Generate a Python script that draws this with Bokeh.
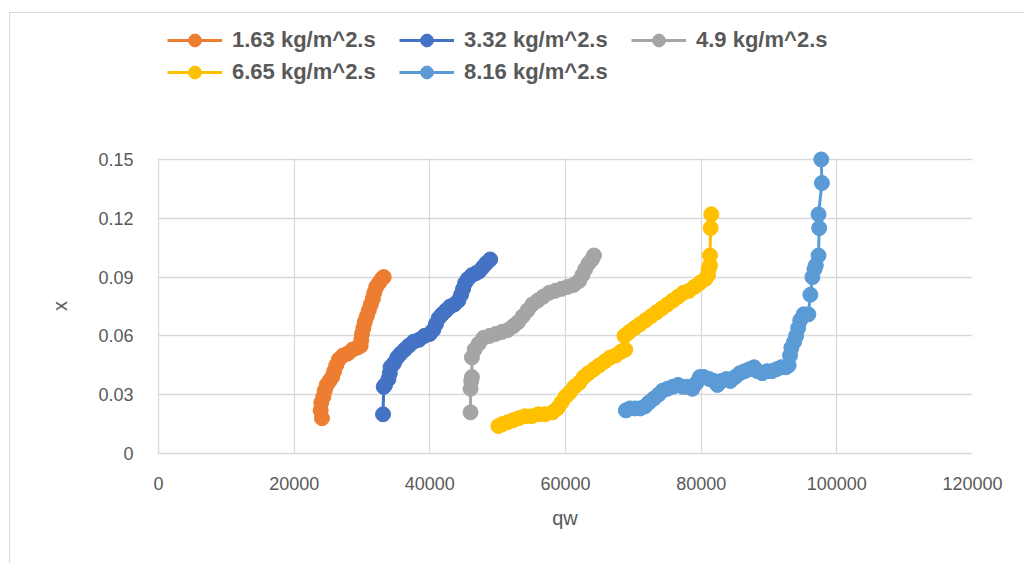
from bokeh.plotting import figure
from bokeh.models import Range1d, FixedTicker, Legend, LegendItem
from bokeh.layouts import column
from bokeh.embed import file_html
from bokeh.resources import INLINE

# ---------------- data ----------------
labels = ["1.63 kg/m^2.s", "3.32 kg/m^2.s", "4.9 kg/m^2.s", "6.65 kg/m^2.s", "8.16 kg/m^2.s"]
colors = ["#ED7D31", "#4472C4", "#A5A5A5", "#FFC000", "#5B9BD5"]

qw_163 = [24100, 23900, 24000, 24300, 24500, 24800, 25200, 25600, 25900, 26200, 26600, 27200, 27900,
          28600, 29300, 29800, 29900, 30000, 30200, 30400, 30700, 31000, 31300, 31600, 31800, 32100,
          32500, 32900, 33200]
x_163 = [0.018, 0.022, 0.026, 0.029, 0.032, 0.035, 0.037, 0.039, 0.042, 0.045, 0.048, 0.050, 0.051,
         0.053, 0.054, 0.055, 0.058, 0.061, 0.064, 0.067, 0.070, 0.073, 0.076, 0.079, 0.082, 0.085,
         0.087, 0.089, 0.090]

qw_332 = [33100, 33200, 33400, 33900, 34100, 34200, 34700, 35200, 35700, 36300, 36900, 37600, 38400,
          39200, 40000, 40500, 40900, 41300, 41800, 42400, 43000, 43600, 44200, 44600, 44900, 45200,
          45600, 46200, 46800, 47300, 47800, 48300, 48900]
x_332 = [0.020, 0.034, 0.035, 0.038, 0.041, 0.044, 0.046, 0.049, 0.051, 0.053, 0.055, 0.057, 0.058,
         0.060, 0.061, 0.063, 0.066, 0.069, 0.071, 0.073, 0.075, 0.076, 0.078, 0.081, 0.084, 0.087,
         0.089, 0.091, 0.092, 0.093, 0.095, 0.097, 0.099]

qw_49 = [46000, 46000, 46100, 46200, 46200, 46600, 47200, 47900, 48800, 49700, 50600, 51500, 52300,
         53000, 53700, 54400, 55100, 55900, 56700, 57600, 58500, 59400, 60300, 61200, 62000, 62500,
         62900, 63400, 63900, 64200]
x_49 = [0.021, 0.033, 0.037, 0.039, 0.049, 0.053, 0.056, 0.059, 0.060, 0.061, 0.062, 0.063, 0.065,
        0.067, 0.070, 0.073, 0.076, 0.078, 0.080, 0.082, 0.083, 0.084, 0.085, 0.086, 0.088, 0.091,
        0.094, 0.097, 0.099, 0.101]

qw_665 = [50100, 50700, 51500, 52300, 53100, 54000, 55000, 56000, 57000, 58100, 58800, 59400, 60000,
          60600, 61300, 62000, 62700, 63400, 64200, 65000, 65800, 66600, 67400, 68200, 68800, 68700,
          69400, 70200, 71000, 71800, 72600, 73400, 74200, 75000, 75800, 76600, 77400, 78200, 79000,
          79800, 80600, 81000, 81100, 81300, 81300, 81400, 81500]
x_665 = [0.014, 0.015, 0.016, 0.017, 0.018, 0.019, 0.019, 0.020, 0.020, 0.021, 0.023, 0.026, 0.029,
         0.031, 0.034, 0.036, 0.039, 0.041, 0.043, 0.045, 0.047, 0.049, 0.050, 0.052, 0.053, 0.060,
         0.062, 0.064, 0.066, 0.068, 0.070, 0.072, 0.074, 0.076, 0.078, 0.080, 0.082, 0.083, 0.085,
         0.087, 0.089, 0.091, 0.094, 0.096, 0.101, 0.115, 0.122]

qw_816 = [68900, 69500, 70300, 71000, 71700, 72300, 73000, 73700, 74300, 75000, 75800, 76600, 77300,
          78000, 78700, 79300, 79800, 80400, 81200, 81900, 82400, 83000, 83700, 84300, 85000, 85700,
          86400, 87100, 87800, 88300, 89000, 89700, 90400, 91100, 91800, 92500, 92900, 93100, 93300,
          93700, 94000, 94300, 94600, 95100, 95800, 96100, 96400, 96700, 96900, 97300, 97400, 97300,
          97800, 97700]
x_816 = [0.022, 0.023, 0.023, 0.023, 0.024, 0.026, 0.028, 0.030, 0.032, 0.033, 0.034, 0.035, 0.034,
         0.034, 0.033, 0.036, 0.039, 0.039, 0.038, 0.037, 0.035, 0.037, 0.038, 0.037, 0.039, 0.041,
         0.042, 0.043, 0.044, 0.042, 0.041, 0.042, 0.042, 0.043, 0.044, 0.044, 0.045, 0.050, 0.054,
         0.057, 0.060, 0.064, 0.068, 0.071, 0.071, 0.081, 0.090, 0.094, 0.096, 0.101, 0.115, 0.122,
         0.138, 0.150]

x_ticks = [0, 20000, 40000, 60000, 80000, 100000, 120000]
y_ticks = [0, 0.03, 0.06, 0.09, 0.12, 0.15]
y_tick_labels = ["0", "0.03", "0.06", "0.09", "0.12", "0.15"]

series = [(qw_163, x_163), (qw_332, x_332), (qw_49, x_49), (qw_665, x_665), (qw_816, x_816)]

# ---------------- style ----------------
FONT = "Liberation Sans"
TXT = "#595959"
GRID = "#D9D9D9"

# ---------------- legend strip (own small figure above the chart) ----------------
leg = figure(width=1014, height=82, x_range=Range1d(0, 1), y_range=Range1d(0, 1),
             output_backend="svg", toolbar_location=None,
             x_axis_location=None, y_axis_location=None,
             min_border=0, outline_line_color=None,
             background_fill_color="white", border_fill_color="white")
leg.grid.visible = False

items = []
for (qx, xv), lab, col in zip(series, labels, colors):
    # these copies lie outside the strip's ranges: they only feed the legend glyphs
    rl = leg.line(qx, xv, line_color=col, line_width=3)
    rp = leg.scatter(qx, xv, marker="circle", size=15, fill_color=col, line_color=col)
    items.append(LegendItem(label=lab, renderers=[rl, rp]))

# the legend fills column by column: order so that rows read 1.63, 3.32, 4.9 / 6.65, 8.16
order = [0, 3, 1, 4, 2]
legend = Legend(items=[items[i] for i in order], ncols=3, location=(10, 7),
                label_text_font=FONT, label_text_font_size="22px",
                label_text_font_style="bold", label_text_color=TXT,
                glyph_width=55, glyph_height=32, label_standoff=10,
                label_width=167, label_height=22, spacing=0,
                padding=0, margin=0, border_line_color=None,
                background_fill_alpha=0)
leg.add_layout(legend, "center")

# ---------------- main chart ----------------
p = figure(width=1014, height=468,
           x_range=Range1d(-150, 120000), y_range=Range1d(0, 0.1505),
           output_backend="svg", toolbar_location=None,
           min_border_left=147, min_border_right=52, min_border_top=63, min_border_bottom=110,
           background_fill_color="white", border_fill_color="white")
p.outline_line_color = None

p.xaxis.ticker = FixedTicker(ticks=x_ticks)
p.yaxis.ticker = FixedTicker(ticks=y_ticks)
p.xaxis.major_label_overrides = {t: str(t) for t in x_ticks}
p.yaxis.major_label_overrides = dict(zip(y_ticks, y_tick_labels))

for ax in (p.xaxis, p.yaxis):
    ax.major_tick_line_color = None
    ax.minor_tick_line_color = None
    ax.major_label_text_font = FONT
    ax.major_label_text_font_size = "18px"
    ax.major_label_text_color = TXT
    ax.axis_label_text_font = FONT
    ax.axis_label_text_font_size = "20px"
    ax.axis_label_text_font_style = "normal"
    ax.axis_label_text_color = TXT
p.yaxis.axis_line_color = None
p.xaxis.axis_line_color = GRID
p.xaxis.axis_line_width = 1.5
p.xaxis.axis_label = "qw"
p.yaxis.axis_label = "x"
p.xaxis.major_label_standoff = 17
p.yaxis.major_label_standoff = 18
p.xaxis.axis_label_standoff = 14
p.yaxis.axis_label_standoff = 24

p.grid.grid_line_color = GRID
p.grid.grid_line_width = 1.3
p.xgrid.ticker = FixedTicker(ticks=x_ticks)
p.ygrid.ticker = FixedTicker(ticks=y_ticks)

for (qx, xv), col in zip(series, colors):
    p.line(qx, xv, line_color=col, line_width=3, level="overlay")
    p.scatter(qx, xv, marker="circle", size=15, fill_color=col, line_color=col, level="overlay")

layout = column(leg, p, spacing=0, margin=(12, 0, 0, 9),
                styles={"border-top": "1px solid #D9D9D9", "border-left": "1px solid #D9D9D9",
                        "background-color": "white"})

open("out.html", "w").write(file_html(layout, INLINE))
